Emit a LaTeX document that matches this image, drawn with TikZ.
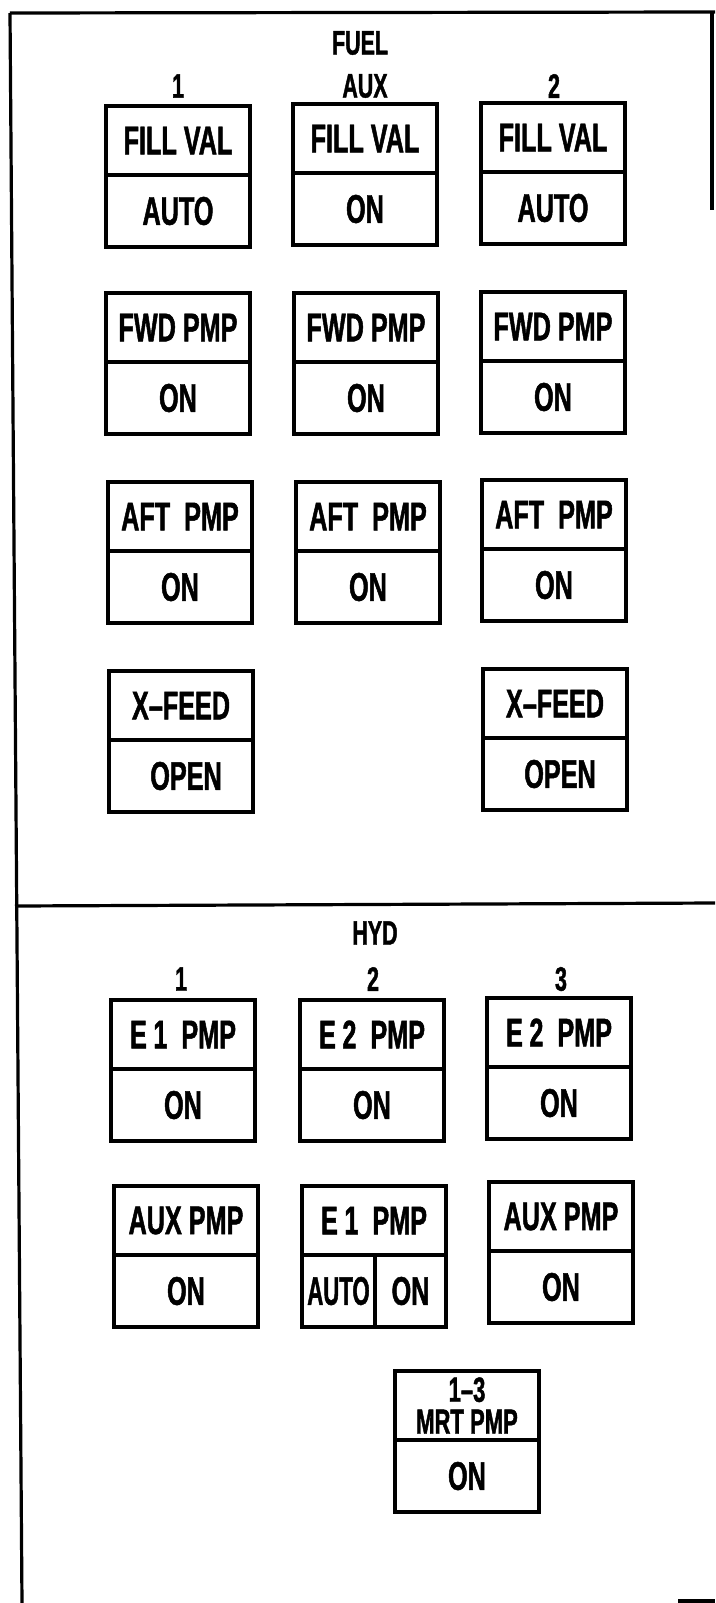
\documentclass[tikz,border=0pt]{standalone}
\usepackage{fontspec}
\usepackage{graphicx}
\setmainfont{Liberation Sans}[FakeStretch=0.63, BoldFeatures={FakeBold=1.2}]
\newcommand{\lblfont}{\fontsize{40}{34}\selectfont\bfseries}
\newcommand{\mrtfont}{\fontsize{35}{35}\selectfont\bfseries}
\newcommand{\hdrfont}{\fontsize{34}{36}\selectfont\bfseries}
\begin{document}
\begin{tikzpicture}[x=1pt,y=-1pt]
\tikzset{
  frame/.style={line width=3.2pt},
  half/.style={draw, line width=3.2pt, minimum width=144pt, inner sep=0pt, outer sep=0pt, anchor=north west, font=\lblfont, align=center},
  tophalf/.style={half, minimum height=69pt},
  bothalf/.style={half, minimum height=72pt},
  cellL/.style={half, minimum height=72pt, minimum width=73pt},
  cellR/.style={half, minimum height=72pt, minimum width=71pt},
  hdr/.style={font=\hdrfont, inner sep=0pt},
}
\useasboundingbox (0,0) rectangle (715,1603);
% frame
\coordinate (ftl) at (10,13);
\coordinate (ftr) at (715,12);
\coordinate (fbl) at (22,1603);
\coordinate (rtop) at (712,12);
\coordinate (rbot) at (712,210);
\coordinate (dl) at (15,906);
\coordinate (dr) at (715,903);
\coordinate (bb1) at (678,1601);
\coordinate (bb2) at (715,1601);
\draw[frame] (ftl) -- (ftr);
\draw[frame] (ftl) -- (fbl);
\draw[frame] (rtop) -- (rbot);
\draw[frame] (dl) -- (dr);
\draw[frame] (bb1) -- (bb2);

% FUEL headings
\node[hdr] (fuel) at (360,43) {FUEL};
\node[hdr] (fc1) at (178,86) {1};
\node[hdr] (fcaux) at (365,86) {AUX};
\node[hdr] (fc2) at (554,86) {2};

% Row 1
\node[tophalf] (f11t) at (106,106) {FILL VAL};
\node[bothalf] (f11b) at (f11t.south west) {AUTO};
\node[tophalf] (f12t) at (293,104) {FILL VAL};
\node[bothalf] (f12b) at (f12t.south west) {ON};
\node[tophalf] (f13t) at (481,103) {FILL VAL};
\node[bothalf] (f13b) at (f13t.south west) {AUTO};
% Row 2
\node[tophalf] (f21t) at (106,293) {FWD PMP};
\node[bothalf] (f21b) at (f21t.south west) {ON};
\node[tophalf] (f22t) at (294,293) {FWD PMP};
\node[bothalf] (f22b) at (f22t.south west) {ON};
\node[tophalf] (f23t) at (481,292) {FWD PMP};
\node[bothalf] (f23b) at (f23t.south west) {ON};
% Row 3
\node[tophalf] (f31t) at (108,482) {AFT\ \ PMP};
\node[bothalf] (f31b) at (f31t.south west) {ON};
\node[tophalf] (f32t) at (296,482) {AFT\ \ PMP};
\node[bothalf] (f32b) at (f32t.south west) {ON};
\node[tophalf] (f33t) at (482,480) {AFT\ \ PMP};
\node[bothalf] (f33b) at (f33t.south west) {ON};
% Row 4
\node[tophalf] (f41t) at (109,671) {X--FEED};
\node[bothalf] (f41b) at (f41t.south west) {\hspace*{10pt}OPEN};
\node[tophalf] (f43t) at (483,669) {X--FEED};
\node[bothalf] (f43b) at (f43t.south west) {\hspace*{10pt}OPEN};

% HYD headings
\node[hdr] (hyd) at (375,933) {HYD};
\node[hdr] (hc1) at (181,979) {1};
\node[hdr] (hc2) at (373,979) {2};
\node[hdr] (hc3) at (561,979) {3};

% HYD row 1
\node[tophalf] (h11t) at (111,1000) {E\,1\ \ PMP};
\node[bothalf] (h11b) at (h11t.south west) {ON};
\node[tophalf] (h12t) at (300,1000) {E\,2\ \ PMP};
\node[bothalf] (h12b) at (h12t.south west) {ON};
\node[tophalf] (h13t) at (487,998) {E\,2\ \ PMP};
\node[bothalf] (h13b) at (h13t.south west) {ON};
% HYD row 2
\node[tophalf] (h21t) at (114,1186) {AUX PMP};
\node[bothalf] (h21b) at (h21t.south west) {ON};
\node[tophalf] (h22t) at (302,1186) {E\,1\ \ PMP};
\node[cellL] (h22l) at (h22t.south west) {\scalebox{0.88}[1]{AUTO}};
\node[cellR] (h22r) at (h22l.north east) {ON};
\node[tophalf] (h23t) at (489,1182) {AUX PMP};
\node[bothalf] (h23b) at (h23t.south west) {ON};
% MRT
\node[tophalf, font=\mrtfont] (mrtt) at (395,1371) {1--3\\[-3pt]MRT PMP};
\node[bothalf] (mrtb) at (mrtt.south west) {ON};
\end{tikzpicture}
\end{document}
